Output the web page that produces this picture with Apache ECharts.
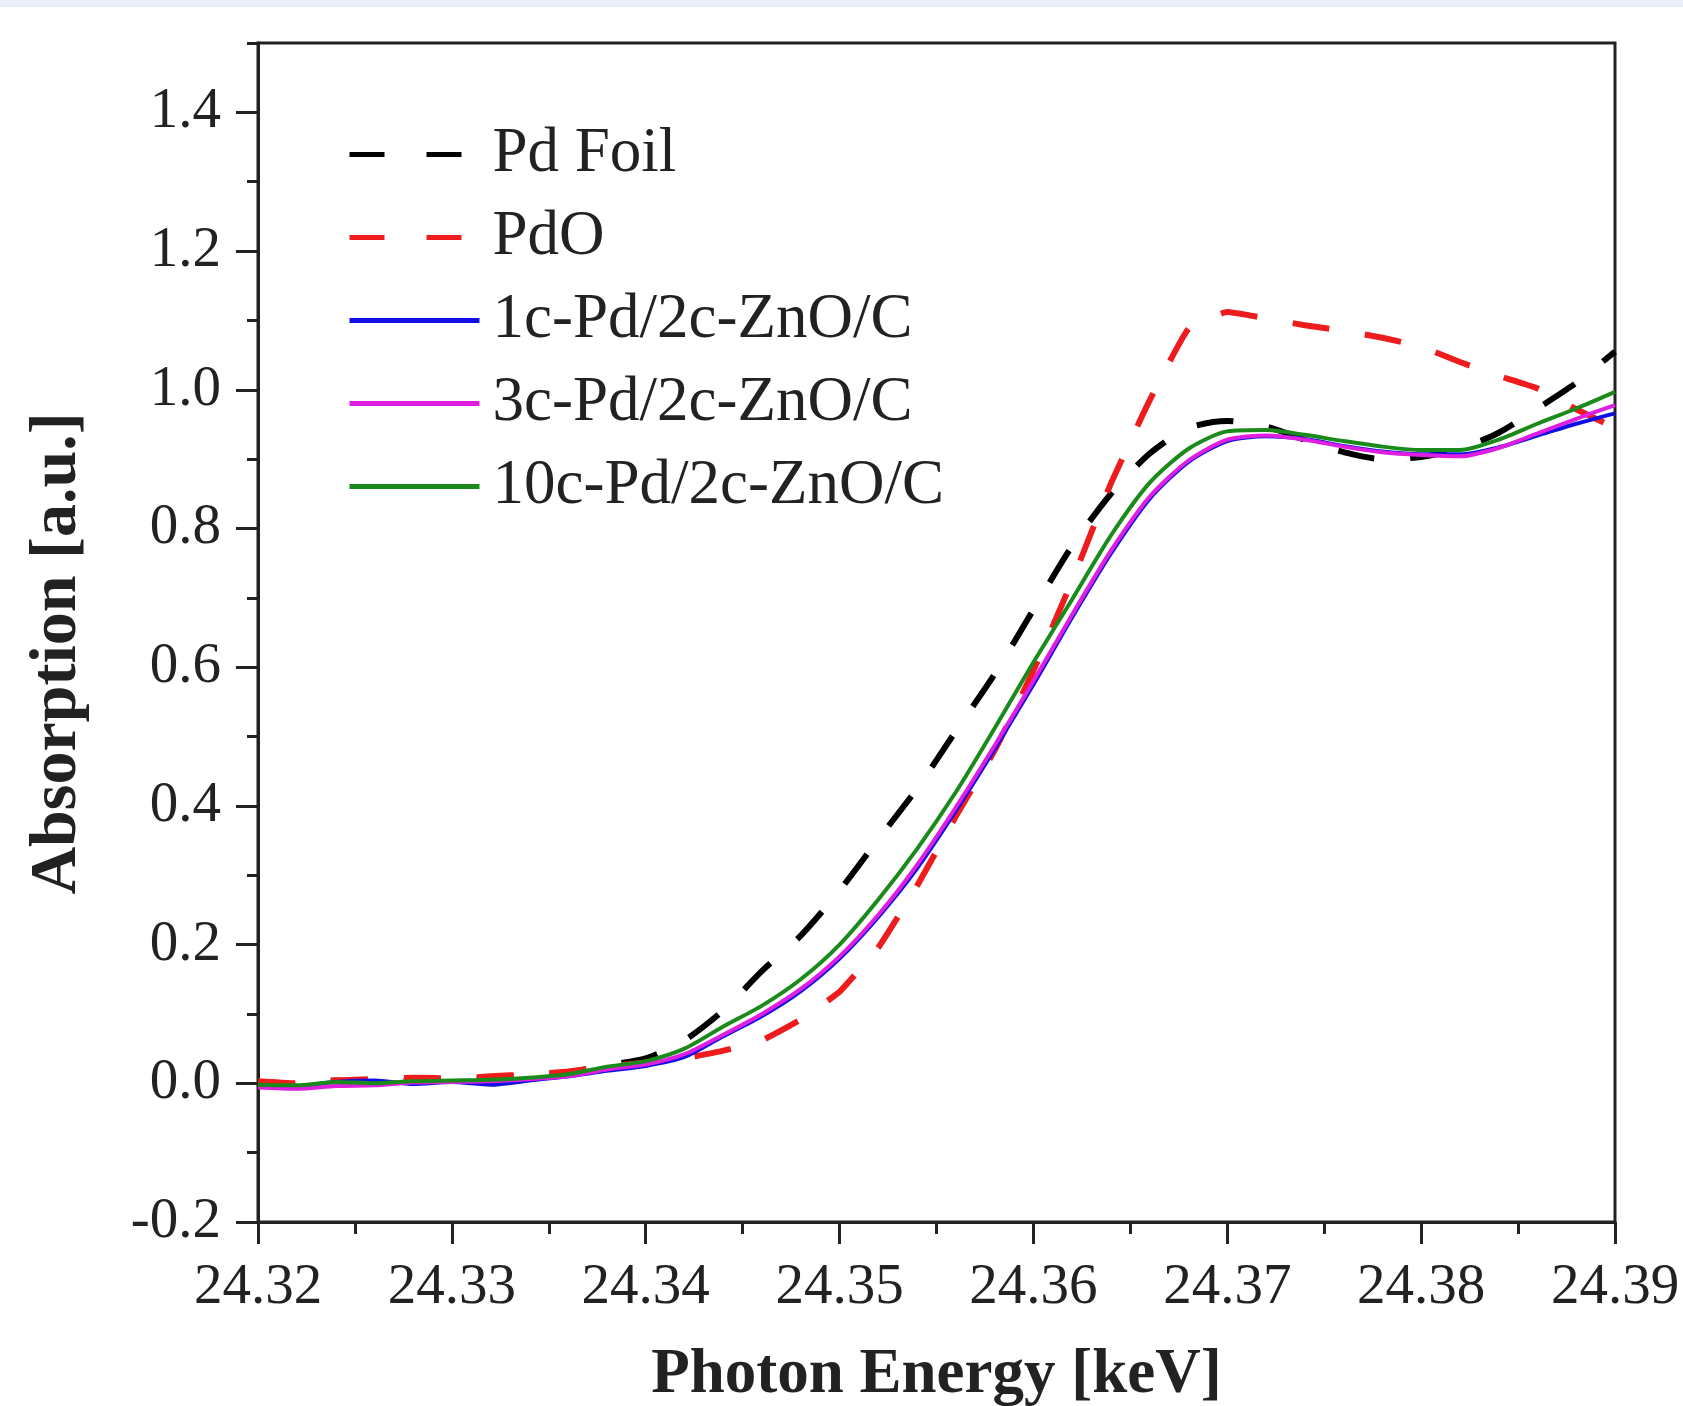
<!DOCTYPE html>
<html>
<head>
<meta charset="utf-8">
<title>Pd K-edge XANES</title>
<script src="https://cdn.jsdelivr.net/npm/echarts@6/dist/echarts.min.js"></script>
<style>
html, body { margin: 0; padding: 0; background: #fff; }
#topBand { position: absolute; left: 0; top: 0; width: 1683px; height: 7px; background: #e7eff8; z-index: 2; }
#chartBox { position: absolute; left: 0; top: 0; width: 1683px; height: 1406px; }
</style>
</head>
<body>
<div id="topBand"></div>
<div id="chartBox"></div>
<script>
// photon energy (keV), shared by all curves
var energy = [24.320, 24.322, 24.324, 24.326, 24.328, 24.330, 24.332, 24.334, 24.336, 24.338,
  24.340, 24.342, 24.344, 24.346, 24.348, 24.350, 24.352, 24.354, 24.356, 24.358,
  24.360, 24.362, 24.364, 24.366, 24.368, 24.370, 24.372, 24.374, 24.376, 24.378,
  24.380, 24.382, 24.384, 24.386, 24.388, 24.390];

var pdFoil = [0.000, -0.002, 0.004, 0.002, 0.004, 0.006, 0.008, 0.012, 0.016, 0.026,
  0.036, 0.062, 0.105, 0.162, 0.213, 0.278, 0.352, 0.425, 0.508, 0.590,
  0.683, 0.775, 0.850, 0.908, 0.945, 0.955, 0.947, 0.928, 0.910, 0.900,
  0.903, 0.915, 0.938, 0.973, 1.010, 1.055];

var pdO = [0.003, 0.000, 0.004, 0.006, 0.008, 0.007, 0.010, 0.013, 0.017, 0.024,
  0.030, 0.036, 0.047, 0.062, 0.092, 0.132, 0.196, 0.285, 0.385, 0.480,
  0.595, 0.725, 0.865, 0.985, 1.088, 1.112, 1.103, 1.093, 1.085, 1.075,
  1.062, 1.040, 1.020, 1.002, 0.972, 0.945];

var pd1c = [-0.004, -0.004, 0.002, 0.004, -0.001, 0.002, -0.002, 0.004, 0.010, 0.018,
  0.025, 0.038, 0.068, 0.097, 0.133, 0.180, 0.240, 0.310, 0.393, 0.482,
  0.575, 0.672, 0.764, 0.843, 0.896, 0.926, 0.933, 0.929, 0.919, 0.911,
  0.907, 0.907, 0.917, 0.934, 0.951, 0.966];

var pd3c = [-0.006, -0.008, -0.004, -0.003, 0.001, 0.002, 0.003, 0.006, 0.010, 0.020,
  0.027, 0.042, 0.070, 0.100, 0.136, 0.183, 0.243, 0.315, 0.398, 0.487,
  0.580, 0.676, 0.768, 0.846, 0.898, 0.928, 0.934, 0.928, 0.918, 0.910,
  0.906, 0.904, 0.916, 0.937, 0.958, 0.978];

var pd10c = [-0.002, -0.003, 0.002, 0.000, 0.003, 0.004, 0.005, 0.008, 0.013, 0.024,
  0.032, 0.050, 0.082, 0.112, 0.150, 0.200, 0.265, 0.338, 0.420, 0.512,
  0.607, 0.698, 0.790, 0.866, 0.915, 0.940, 0.942, 0.935, 0.926, 0.918,
  0.913, 0.913, 0.928, 0.951, 0.973, 0.997];

var yMajor = [-0.2, 0, 0.2, 0.4, 0.6, 0.8, 1.0, 1.2, 1.4];
var yMinor = [-0.1, 0.1, 0.3, 0.5, 0.7, 0.9, 1.1, 1.3, 1.5];

var serif = "'Liberation Serif', 'Times New Roman', serif";
var ink = '#222';

function pairs(ys) {
  return energy.map(function (e, i) { return [e, ys[i]]; });
}

var chart = echarts.init(document.getElementById('chartBox'));

var option = {
  animation: false,
  backgroundColor: '#fff',
  grid: {
    left: 258, right: 68, top: 43, bottom: 184,
    outerBoundsMode: 'none',
    containLabel: false,
    show: true, borderColor: ink, borderWidth: 3
  },
  legend: {
    orient: 'vertical',
    left: 342, top: 118,
    itemWidth: 130, itemHeight: 20, itemGap: 20,
    textStyle: { fontSize: 63, fontFamily: serif, color: ink, padding: [0, 0, 0, 8] },
    lineStyle: { width: 5 },
    itemStyle: { opacity: 0, borderWidth: 0 },
    data: [
      { name: 'Pd Foil', lineStyle: { type: [35, 42] } },
      { name: 'PdO', lineStyle: { type: [35, 42] } },
      { name: '1c-Pd/2c-ZnO/C' },
      { name: '3c-Pd/2c-ZnO/C' },
      { name: '10c-Pd/2c-ZnO/C' }
    ]
  },
  xAxis: {
    type: 'value',
    min: 24.32, max: 24.39, interval: 0.01,
    axisLine: { show: true, onZero: false, lineStyle: { color: ink, width: 3 } },
    axisTick: { show: true, length: 22, lineStyle: { color: ink, width: 3 } },
    minorTick: { show: true, splitNumber: 2, length: 12, lineStyle: { color: ink, width: 3 } },
    splitLine: { show: false },
    axisLabel: {
      margin: 38, fontSize: 57, fontFamily: serif, color: ink,
      formatter: function (v) { return v.toFixed(2); }
    },
    name: 'Photon Energy [keV]',
    nameLocation: 'middle',
    nameGap: 122,
    nameTextStyle: { fontSize: 63, fontWeight: 'bold', fontFamily: serif, color: ink }
  },
  yAxis: [
    {
      type: 'value',
      min: -0.2, max: 1.5, interval: 0.2,
      position: 'left',
      axisLine: { show: true, onZero: false, lineStyle: { color: ink, width: 3 } },
      axisTick: { show: true, length: 22, customValues: yMajor, lineStyle: { color: ink, width: 3 } },
      splitLine: { show: false },
      axisLabel: {
        customValues: yMajor,
        margin: 37, fontSize: 57, fontFamily: serif, color: ink,
        formatter: function (v) { return v > 1.45 ? '' : v.toFixed(1); }
      },
      name: 'Absorption [a.u.]',
      nameLocation: 'middle',
      nameGap: 167,
      nameTextStyle: { fontSize: 66, fontWeight: 'bold', fontFamily: serif, color: ink, padding: [0, 42, 0, 0] }
    },
    {
      // minor ticks only
      type: 'value',
      min: -0.2, max: 1.5, interval: 0.1,
      position: 'left',
      axisLine: { show: false, onZero: false },
      axisTick: { show: true, length: 11, customValues: yMinor, lineStyle: { color: ink, width: 3 } },
      axisLabel: { show: false },
      splitLine: { show: false }
    }
  ],
  series: [
    {
      name: 'Pd Foil', type: 'line', data: pairs(pdFoil), symbol: 'none', smooth: 0.25,
      lineStyle: { color: '#000', width: 6, type: [37, 36] }, itemStyle: { color: '#000' }, z: 2
    },
    {
      name: 'PdO', type: 'line', data: pairs(pdO), symbol: 'none', smooth: 0.12,
      lineStyle: { color: '#ee1c1c', width: 6, type: [37, 36] }, itemStyle: { color: '#ee1c1c' }, z: 2
    },
    {
      name: '1c-Pd/2c-ZnO/C', type: 'line', data: pairs(pd1c), symbol: 'none', smooth: 0.25,
      lineStyle: { color: '#1010e6', width: 4 }, itemStyle: { color: '#1010e6' }, z: 3
    },
    {
      name: '3c-Pd/2c-ZnO/C', type: 'line', data: pairs(pd3c), symbol: 'none', smooth: 0.25,
      lineStyle: { color: '#e01ee0', width: 4 }, itemStyle: { color: '#e01ee0' }, z: 3
    },
    {
      name: '10c-Pd/2c-ZnO/C', type: 'line', data: pairs(pd10c), symbol: 'none', smooth: 0.25,
      lineStyle: { color: '#1a8a1a', width: 4 }, itemStyle: { color: '#1a8a1a' }, z: 3
    }
  ]
};

chart.setOption(option);
</script>
</body>
</html>
